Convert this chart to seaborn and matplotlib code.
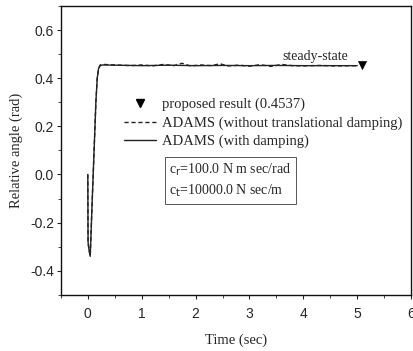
import numpy as np
import pandas as pd
import matplotlib
matplotlib.use("Agg")
import matplotlib.pyplot as plt
import seaborn as sns
from matplotlib.lines import Line2D

# data
time_with = [0.0, 0.005, 0.02, 0.045, 0.08, 0.12, 0.15, 0.175, 0.2, 0.23, 0.27,
             0.3, 0.5, 0.8, 1.0, 1.5, 2.0, 2.5, 3.0, 3.5, 4.0, 4.5, 5.0]
angle_with = [0.0, -0.28, -0.31, -0.34, -0.12, 0.12, 0.30, 0.40, 0.44, 0.452, 0.455,
              0.455, 0.454, 0.453, 0.452, 0.454, 0.452, 0.453, 0.452, 0.453, 0.452, 0.452, 0.452]
time_without = [0.0, 0.005, 0.02, 0.045, 0.08, 0.12, 0.15, 0.175, 0.2, 0.23, 0.27,
                0.3, 0.5, 0.8, 1.0, 1.2, 1.4, 1.6, 1.75, 1.9, 2.1, 2.3, 2.45, 2.6, 2.8,
                3.0, 3.2, 3.4, 3.6, 3.8, 4.0, 4.3, 4.6, 5.0]
angle_without = [0.0, -0.28, -0.31, -0.34, -0.12, 0.12, 0.30, 0.40, 0.44, 0.455, 0.457,
                 0.457, 0.455, 0.452, 0.455, 0.451, 0.457, 0.452, 0.462, 0.451, 0.455, 0.452,
                 0.460, 0.451, 0.454, 0.450, 0.456, 0.449, 0.457, 0.452, 0.451, 0.453, 0.451, 0.452]
proposed_time = [5.08]
proposed_value = [0.4537]

sns.set_style("ticks")
serif = ["Liberation Serif", "DejaVu Serif"]
sans = ["Liberation Sans", "DejaVu Sans"]

fig = plt.figure(figsize=(4.14, 3.51), dpi=100)
ax = fig.add_axes([0.147, 0.16, 0.846, 0.823])

df_with = pd.DataFrame({"t": time_with, "a": angle_with})
df_without = pd.DataFrame({"t": time_without, "a": angle_without})
sns.lineplot(data=df_without, x="t", y="a", ax=ax, color="#222222", lw=1.0,
             linestyle=(0, (3, 2)), estimator=None, sort=False)
sns.lineplot(data=df_with, x="t", y="a", ax=ax, color="#222222", lw=1.0,
             estimator=None, sort=False)
sns.scatterplot(x=proposed_time, y=proposed_value, ax=ax, marker="v", color="black",
                s=34, edgecolor="black")

ax.set_xlim(-0.5, 6)
ax.set_ylim(-0.5, 0.7)
ax.set_xticks([0, 1, 2, 3, 4, 5, 6])
ax.set_yticks([-0.4, -0.2, 0.0, 0.2, 0.4, 0.6])
ax.set_yticklabels(["-0.4", "-0.2", "0.0", "0.2", "0.4", "0.6"])
ax.set_xticks(np.arange(-0.5, 6.01, 0.5), minor=True)
ax.set_yticks(np.arange(-0.5, 0.71, 0.1), minor=True)
ax.tick_params(axis="both", which="major", direction="out", length=3, width=0.8,
               labelsize=10)
ax.tick_params(axis="x", which="major", pad=6)
ax.tick_params(axis="y", which="major", pad=2)
ax.tick_params(axis="both", which="minor", direction="out", length=2, width=0.6)
for lab in ax.get_xticklabels() + ax.get_yticklabels():
    lab.set_family(sans)
for s in ax.spines.values():
    s.set_linewidth(1.0)
    s.set_color("#111111")

ax.set_xlabel("Time (sec)", family=serif, fontsize=10.5, labelpad=8.5)
ax.set_ylabel("Relative angle (rad)", family=serif, fontsize=10.5, labelpad=5)

ax.text(4.22, 0.49, "steady-state", family=serif, fontsize=10, ha="center", va="center")

handles = [
    Line2D([], [], marker="v", color="black", linestyle="none", markersize=5.5),
    Line2D([], [], color="#222222", lw=1.0, linestyle=(0, (3, 2))),
    Line2D([], [], color="#222222", lw=1.0),
]
labels = ["proposed result (0.4537)", "ADAMS (without translational damping)",
          "ADAMS (with damping)"]
ax.legend(handles, labels, loc="upper left", bbox_to_anchor=(0.163, 0.702), frameon=False,
          prop={"family": serif, "size": 10.5}, handlelength=2.2, handletextpad=0.4,
          labelspacing=0.34, borderaxespad=0)

ax.text(0.31, 0.46, "c$_{\\rm r}$=100.0 N m sec/rad\nc$_{\\rm t}$=10000.0 N sec/m",
        transform=ax.transAxes, family=serif, fontsize=10, va="top", ha="left",
        linespacing=1.35,
        bbox=dict(boxstyle="square,pad=0.35", fc="white", ec="#555555", lw=0.7))

fig.savefig("out.png", dpi=100)
